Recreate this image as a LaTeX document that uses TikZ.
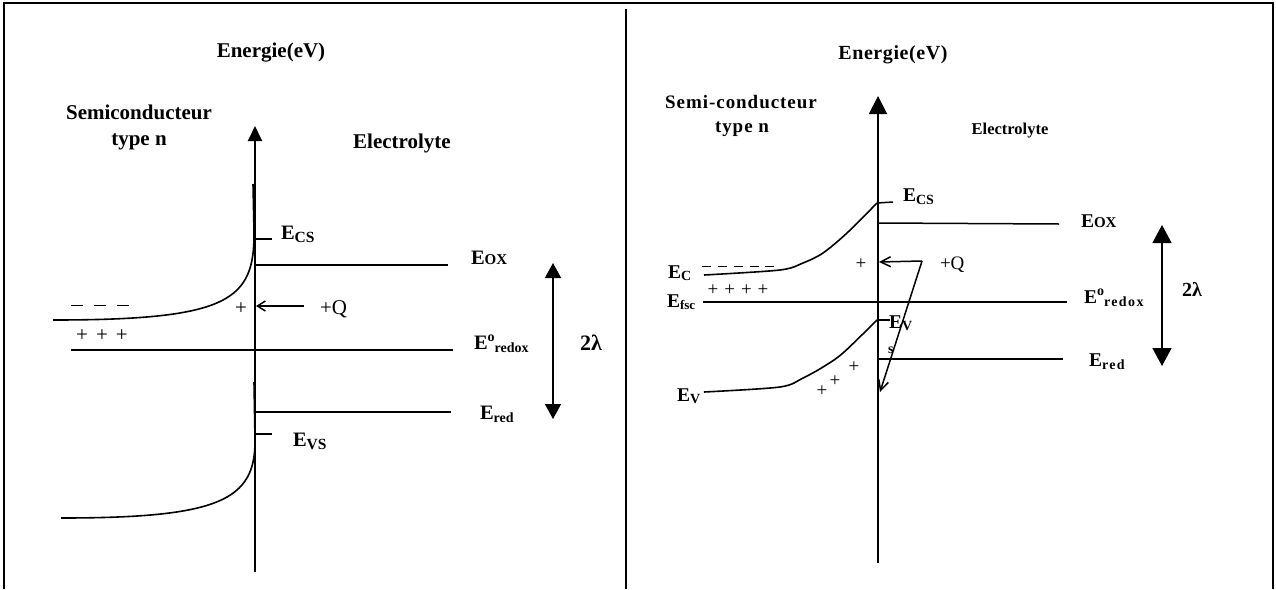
\documentclass[tikz,border=0pt]{standalone}
\usepackage{fontspec}
\setmainfont{Liberation Serif}
\usetikzlibrary{arrows.meta}
\newcommand\lsub[2][4pt]{\raisebox{-#1}{\fontsize{14}{14}\selectfont #2}}
\newcommand\lsup[2][7pt]{\raisebox{#1}{\fontsize{14}{14}\selectfont #2}}
\newcommand\smc[1]{{\fontsize{15}{15}\selectfont #1}}
\begin{document}
\begin{tikzpicture}[x=1pt,y=-1pt,
  bx/.style={inner sep=0pt,outer sep=0pt},
  tl/.style={bx,font=\fontsize{21}{25}\selectfont\bfseries,anchor=base},
  tr/.style={bx,font=\fontsize{19}{23}\selectfont\bfseries\addfontfeatures{LetterSpace=5},anchor=base},
  trn/.style={bx,font=\fontsize{16.5}{20}\selectfont\bfseries,anchor=base},
  el/.style={bx,font=\fontsize{20.5}{24}\selectfont\bfseries,anchor=base west},
  er/.style={bx,font=\fontsize{19.5}{23}\selectfont\bfseries,anchor=base west},
  sg/.style={bx,font=\fontsize{21}{24}\selectfont},
  sgr/.style={bx,font=\fontsize{19}{22}\selectfont},
  frame/.style={line width=2pt},
  ax/.style={line width=1.9pt},
  lv/.style={line width=1.5pt},
  bd/.style={line width=1.6pt},
  lam/.style={bx,font=\fontsize{22}{24}\selectfont\bfseries,anchor=base west},
]
\useasboundingbox (0,0) rectangle (1276,589);
% frame
\coordinate (FL) at (4,589); \coordinate (FTL) at (4,3);
\coordinate (FTR) at (1273,3); \coordinate (FR) at (1273,589);
\coordinate (DT) at (626,9); \coordinate (DB) at (626,589);
\draw[frame] (FL) -- (FTL) -- (FTR) -- (FR);
\draw[frame] (DT) -- (DB);

% ================= LEFT PANEL =================
\node[tl] (Len) at (271,57) {Energie(eV)};
\node[tl] (Lsc1) at (139,119) {Semiconducteur};
\node[tl] (Lsc2) at (139,145) {type n};
\node[tl] (Lel) at (402,148) {Electrolyte};

\coordinate (LaxB) at (255,572); \coordinate (LaxT) at (255,126);
\draw[ax,-{Triangle[width=14pt,length=15pt]}] (LaxB) -- (LaxT);

% conduction band
\coordinate (LcL) at (53,320); \coordinate (LcM) at (254,232); \coordinate (LcT) at (253,184);
\draw[bd] (LcL) .. controls (230,320) and (254.5,300) .. (LcM) -- (LcT);
% valence band
\coordinate (LvL) at (61,518); \coordinate (LvM) at (255,440); \coordinate (LvT) at (254,382);
\draw[bd] (LvL) .. controls (220,518) and (255.5,500) .. (LvM) -- (LvT);

% levels
\coordinate (LcsA) at (255,239); \coordinate (LcsB) at (272,239);
\draw[lv] (LcsA) -- (LcsB);
\node[el] (Lecs) at (281,239) {E\lsub[3.5pt]{\fontsize{15.5}{15}\selectfont CS}};

\coordinate (LoxA) at (255,265); \coordinate (LoxB) at (448,265);
\draw[lv] (LoxA) -- (LoxB);
\node[el] (Leox) at (471,264) {E\smc{OX}};

\coordinate (LrdA) at (71,350); \coordinate (LrdB) at (453,350);
\draw[lv] (LrdA) -- (LrdB);
\node[el] (Leredox) at (474,349) {E\lsup[8pt]{o}\lsub[3pt]{redox}};

\coordinate (LreA) at (255,412); \coordinate (LreB) at (451,412);
\draw[lv] (LreA) -- (LreB);
\node[el] (Lered) at (480,419) {E\lsub[3pt]{red}};

\coordinate (LvsA) at (255,434); \coordinate (LvsB) at (272,434);
\draw[lv] (LvsA) -- (LvsB);
\node[el] (Levs) at (293,446) {E\lsub[3.5pt]{\fontsize{15.5}{15}\selectfont VS}};

% +Q arrow
\coordinate (LqA) at (304,306); \coordinate (LqB) at (256,306);
\draw[lv,-{Straight Barb[length=8pt,width=10pt]}] (LqA) -- (LqB);
\node[sg,anchor=base west] (Lq) at (320,314) {+Q};
\node[sg] (Lp) at (241,309) {+};
\node[sg] (Lminus) at (100,308) {\rule[6pt]{12pt}{1pt}\hspace{11pt}\rule[6pt]{12pt}{1pt}\hspace{11pt}\rule[6pt]{12pt}{1pt}};
\node[sg] (Lplus) at (102,336) {+\hspace{8pt}+\hspace{8pt}+};

% 2 lambda
\coordinate (LlA) at (553,263); \coordinate (LlB) at (553,419);
\draw[lv,{Triangle[width=16pt,length=15pt]}-{Triangle[width=16pt,length=15pt]}] (LlA) -- (LlB);
\node[lam] (Llam) at (580,350) {2λ};

% ================= RIGHT PANEL =================
\node[tr,font=\fontsize{20}{23}\selectfont\bfseries\addfontfeatures{LetterSpace=3}] (Ren) at (893,59) {Energie(eV)};
\node[tr] (Rsc1) at (741,108) {Semi-conducteur};
\node[tr] (Rsc2) at (742,132) {type n};
\node[trn] (Rel) at (1010,134) {Electrolyte};

\coordinate (RaxB) at (878,563); \coordinate (RaxT) at (878,96);
\draw[ax,-{Triangle[width=18pt,length=18pt]}] (RaxB) -- (RaxT);

% conduction band
\draw[bd] plot[smooth,tension=0.5] coordinates {(704,275) (780,270) (803,263) (823,253) (847,233) (877,203)};
% valence band
\draw[bd] plot[smooth,tension=0.5] coordinates {(704,392) (780,387) (803,378) (823,367) (843,353) (877,320)};
\coordinate (RcEnd) at (877,203);
\coordinate (RvEnd) at (877,320);

\coordinate (RcsB) at (893,202);
\draw[lv] (RcEnd) -- (RcsB);
\node[er] (Recs) at (903,201) {E\lsub[3.5pt]{\fontsize{14}{14}\selectfont CS}};

\coordinate (RoxA) at (878,223); \coordinate (RoxB) at (1059,224);
\draw[lv] (RoxA) -- (RoxB);
\node[er] (Reox) at (1081,227) {E\smc{OX}};

\coordinate (RfA) at (703,302); \coordinate (RfB) at (1067,302);
\draw[lv] (RfA) -- (RfB);
\node[er] (Reredox) at (1084,303) {E\lsup[8pt]{o}\lsub[3pt]{\addfontfeatures{LetterSpace=10}redox}};

\coordinate (RreA) at (878,359); \coordinate (RreB) at (1063,359);
\draw[lv] (RreA) -- (RreB);
\node[er] (Rered) at (1089,366) {E\lsub[3pt]{\addfontfeatures{LetterSpace=10}red}};

\coordinate (RvsB) at (890,320);
\draw[lv] (RvEnd) -- (RvsB);
\node[er] (Rev) at (889,328) {E\lsub[2pt]{\fontsize{14}{14}\selectfont V}};
\node[er] (Res) at (888,353) {\fontsize{14}{14}\selectfont s};

\node[er] (Rec) at (668,278) {E\lsub[2pt]{\fontsize{14}{14}\selectfont C}};
\node[er] (Refsc) at (667,307) {E\lsub[2pt]{\fontsize{13}{13}\selectfont fsc}};
\node[er] (Rev2) at (677,401) {E\lsub[2pt]{\fontsize{14}{14}\selectfont V}};

\node[sgr] (Rminus) at (738,266) {\rule[0pt]{9pt}{1pt}\hspace{7pt}\rule[0pt]{9pt}{1pt}\hspace{7pt}\rule[0pt]{9pt}{1pt}\hspace{7pt}\rule[0pt]{9pt}{1pt}\hspace{6pt}\rule[0pt]{9pt}{1pt}};
\node[sgr] (Rplus) at (738,290) {+\hspace{6pt}+\hspace{6pt}+\hspace{6pt}+};
\node[sgr] (Rp0) at (861,264) {+};
\node[sgr] (Rp1) at (854,367) {+};
\node[sgr] (Rp2) at (835,381) {+};
\node[sgr] (Rp3) at (822,391) {+};

% +Q arrows
\coordinate (RqA) at (922,261); \coordinate (RqB) at (879,262); \coordinate (RqC) at (880,392);
\draw[lv,-{Straight Barb[length=10pt,width=10pt]}] (RqA) -- (RqB);
\draw[lv,-{Straight Barb[length=10pt,width=10pt]}] (RqA) -- (RqC);
\node[sgr,anchor=base west] (Rq) at (940,269) {+Q};

% 2 lambda
\coordinate (RlA) at (1162,225); \coordinate (RlB) at (1162,366);
\draw[lv,{Triangle[width=19pt,length=18pt]}-{Triangle[width=19pt,length=18pt]}] (RlA) -- (RlB);
\node[lam,font=\fontsize{20}{22}\selectfont\bfseries] (Rlam) at (1182,296) {2λ};
\end{tikzpicture}
\end{document}
